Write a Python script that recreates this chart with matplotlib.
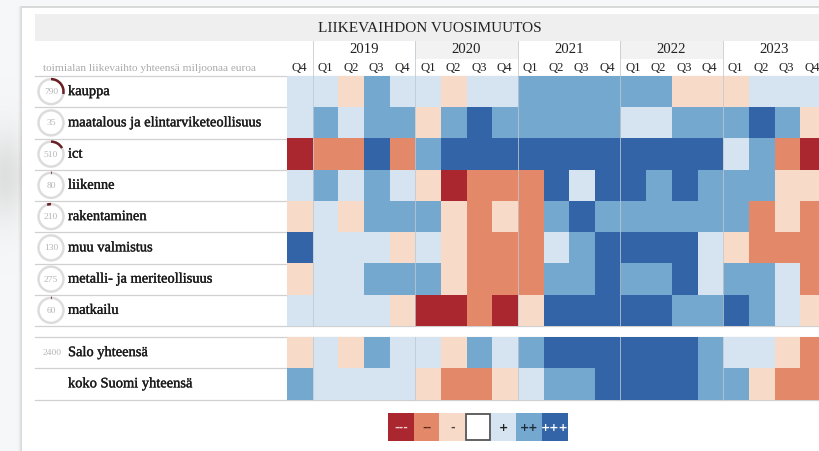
import numpy as np
import matplotlib
matplotlib.use("Agg")
import matplotlib.pyplot as plt
import matplotlib.patheffects as pe
from matplotlib.colors import ListedColormap, BoundaryNorm
from matplotlib.patches import Rectangle, Circle, Arc

# ---------------- data ----------------
title = "LIIKEVAIHDON VUOSIMUUTOS"
subtitle = "toimialan liikevaihto yhteensä miljoonaa euroa"
years = ["2019", "2020", "2021", "2022", "2023"]
quarters = ["Q4",
            "Q1", "Q2", "Q3", "Q4",
            "Q1", "Q2", "Q3", "Q4",
            "Q1", "Q2", "Q3", "Q4",
            "Q1", "Q2", "Q3", "Q4",
            "Q1", "Q2", "Q3", "Q4"]

sectors = ["kauppa", "maatalous ja elintarviketeollisuus", "ict", "liikenne",
           "rakentaminen", "muu valmistus", "metalli- ja meriteollisuus", "matkailu"]
sector_turnover = [790, 35, 510, 80, 210, 130, 275, 60]
sector_arc = [0.28, 0.0, 0.17, 0.01, -0.05, 0.0, 0.0, 0.01]

kauppa       = [1, 1, -1, 2, 1, 1, -1, 1, 1, 2, 2, 2, 2, 2, 2, -1, -1, -1, 1, 1, 1]
maatalous    = [1, 2, 1, 2, 2, -1, 2, 3, 2, 2, 2, 2, 2, 1, 1, 2, 2, 2, 3, 2, -1]
ict          = [-3, -2, -2, 3, -2, 2, 3, 3, 3, 3, 3, 3, 3, 3, 3, 3, 3, 1, 2, -2, -3]
liikenne     = [1, 2, 1, 2, 1, -1, -3, -2, -2, -2, 3, 1, 3, 3, 2, 3, 2, 2, 2, -1, -1]
rakentaminen = [-1, 1, -1, 2, 2, 2, -1, -2, -1, -2, 2, 3, 2, 2, 2, 2, 2, 2, -2, -1, -2]
muu          = [3, 1, 1, 1, -1, 1, -1, -2, -2, -2, 1, 2, 3, 3, 3, 3, 1, -1, -2, -2, -2]
metalli      = [-1, 1, 1, 2, 2, 2, -1, -2, -2, -2, 2, 2, 3, 2, 2, 3, 1, 2, 2, 1, -2]
matkailu     = [1, 1, 1, 1, -1, -3, -3, -2, -3, -1, 3, 3, 3, 3, 3, 2, 2, 3, 2, 1, -1]

totals = ["Salo yhteensä", "koko Suomi yhteensä"]
totals_turnover = ["2400", ""]
salo         = [-1, 1, -1, 2, 1, 1, -1, 2, 1, 2, 3, 3, 3, 3, 3, 3, 2, 1, 1, -1, -2]
suomi        = [2, 1, 1, 1, 1, -1, -2, -2, -1, 1, 2, 2, 3, 3, 3, 3, 2, 2, -1, -2, -2]

levels = [-3, -2, -1, 0, 1, 2, 3]
level_labels = ["---", "--", "-", "", "+", "++", "+++"]
level_colors = ["#ab2730", "#e3896a", "#f8dac9", "#ffffff", "#d5e4f0", "#74a8cf", "#3464a8"]
level_text_colors = ["#f4d0d0", "#5a2a1e", "#444444", "#333333", "#222222", "#1f2a3a", "white"]

sector_matrix = np.array([kauppa, maatalous, ict, liikenne, rakentaminen, muu, metalli, matkailu])
total_matrix = np.array([salo, suomi])

# ---------------- layout (pixels) ----------------
W, H = 820, 451
fig = plt.figure(figsize=(W / 100, H / 100), dpi=100)
fig.patch.set_facecolor("#f6f7f8")

cmap = ListedColormap(level_colors)
norm = BoundaryNorm(np.arange(-3.5, 4.0, 1.0), cmap.N)

x0 = 287.0            # left edge of heat map
cw = 25.625           # column width
rh = 31.25            # row height
y_sec = 76.0
y_tot = 337.0
ncol = len(quarters)
lab_left = 35.0
SERIF = "Liberation Serif"
thick = [pe.withStroke(linewidth=0.25, foreground="#1a1a1a")]


def fbox(x, y, w, h):
    return [x / W, 1 - (y + h) / H, w / W, h / H]


# background / overlay axes in pixel coords
bg = fig.add_axes([0, 0, 1, 1], zorder=0)
bg.set_xlim(0, W)
bg.set_ylim(H, 0)
bg.axis("off")

# soft blob on the left
yy, xx = np.mgrid[0:H, 0:60]
blob = np.exp(-(((xx - 5) / 22.0) ** 2 + ((yy - 175) / 45.0) ** 2))
rgba = np.zeros((H, 60, 4))
rgba[..., :3] = 0.80
rgba[..., 3] = 0.55 * blob
bg.imshow(rgba, extent=(0, 60, H, 0), aspect="auto", zorder=0)

# panel shadow and panel
for i, a in enumerate([0.04, 0.06, 0.08, 0.11]):
    bg.add_patch(Rectangle((22 - 4 + i, 6), W, H, facecolor="#888888", alpha=a,
                           edgecolor="none", zorder=1))
bg.add_patch(Rectangle((22, 8), W, H, facecolor="white", edgecolor="none", zorder=2))

# title band
bg.add_patch(Rectangle((lab_left, 14), W - lab_left, 27, facecolor="#efefef",
                       edgecolor="none", zorder=3))
bg.text(430, 28.5, title, ha="center", va="center", fontsize=11,
        family=SERIF, color="#222222", zorder=4)

# year header cells
for k, yr in enumerate(years):
    xs = x0 + cw * (1 + 4 * k)
    if k % 2 == 1:
        bg.add_patch(Rectangle((xs, 41), 4 * cw, 18, facecolor="#f2f2f2",
                               edgecolor="none", zorder=3))

bg.text(43, 68.5, subtitle, ha="left", va="center", fontsize=8.1,
        family=SERIF, color="#aaaaaa", zorder=4)

# horizontal row lines
for k in range(len(sectors) + 1):
    yv = y_sec + rh * k
    bg.plot([lab_left, W], [yv, yv], color="#d0d0d0", lw=0.9, zorder=3)
for k in range(len(totals) + 1):
    yv = y_tot + rh * k
    bg.plot([lab_left, W], [yv, yv], color="#d0d0d0", lw=0.9, zorder=3)

# row labels with circle gauges
for i, (name, val, arc) in enumerate(zip(sectors, sector_turnover, sector_arc)):
    cy = y_sec + rh * (i + 0.5)
    bg.add_patch(Circle((51, cy), 12.5, facecolor="white", edgecolor="#dcdcdc",
                        lw=1.8, zorder=4))
    if arc != 0:
        t1, t2 = (-90, -90 + 360 * arc) if arc > 0 else (-90 + 360 * arc, -90)
        bg.add_patch(Arc((51, cy), 25, 25, theta1=t1, theta2=t2,
                         color="#6b1f24", lw=1.8, zorder=5))
    bg.text(51, cy + 0.5, str(val), ha="center", va="center", fontsize=6.8,
            family=SERIF, color="#b5b5b5", zorder=5)
    bg.text(68, cy, name, ha="left", va="center", fontsize=10.4,
            family=SERIF, color="#1a1a1a", zorder=5, path_effects=thick)

for i, (name, val) in enumerate(zip(totals, totals_turnover)):
    cy = y_tot + rh * (i + 0.5)
    if val:
        bg.text(52, cy + 0.5, val, ha="center", va="center", fontsize=6.8,
                family=SERIF, color="#b5b5b5", zorder=5)
    bg.text(68, cy, name, ha="left", va="center", fontsize=10.4,
            family=SERIF, color="#1a1a1a", zorder=5, path_effects=thick)

# ---------------- heat maps ----------------
def heat(box, mat):
    ax = fig.add_axes(box, zorder=1)
    ax.imshow(mat, cmap=cmap, norm=norm, aspect="auto", interpolation="nearest",
              extent=(-0.5, mat.shape[1] - 0.5, mat.shape[0] - 0.5, -0.5))
    ax.set_xlim(-0.5, mat.shape[1] - 0.5)
    ax.set_ylim(mat.shape[0] - 0.5, -0.5)
    ax.axis("off")
    ax.patch.set_alpha(0)
    return ax


ax_s = heat(fbox(x0, y_sec, cw * ncol, rh * len(sectors)), sector_matrix)
ax_t = heat(fbox(x0, y_tot, cw * ncol, rh * len(totals)), total_matrix)

# header axis for quarters / years
ax_h = fig.add_axes(fbox(x0, 41, cw * ncol, 35), zorder=2)
ax_h.set_xlim(-0.5, ncol - 0.5)
ax_h.set_ylim(0, 1)
ax_h.axis("off")
ax_h.patch.set_alpha(0)
for j, q in enumerate(quarters):
    ax_h.text(j, 0.23, q, ha="center", va="center", fontsize=9.2,
              family=SERIF, color="#222222")
for k, yr in enumerate(years):
    ax_h.text(1 + 4 * k + 1.5, 0.76, yr, ha="center", va="center", fontsize=10.6,
              family=SERIF, color="#222222")

# year separators on top
ov = fig.add_axes([0, 0, 1, 1], zorder=3)
ov.set_xlim(0, W)
ov.set_ylim(H, 0)
ov.axis("off")
ov.patch.set_alpha(0)
for k in range(len(years)):
    xs = x0 + cw * (1 + 4 * k)
    ov.plot([xs, xs], [41, y_sec + rh * len(sectors)], color="#bfc8d0", lw=0.7, alpha=0.8)
    ov.plot([xs, xs], [y_tot, y_tot + rh * len(totals)], color="#bfc8d0", lw=0.7, alpha=0.8)

# ---------------- legend ----------------
ax_l = fig.add_axes(fbox(388, 413, 7 * 25.7, 28), zorder=2)
ax_l.imshow(np.array([levels]), cmap=cmap, norm=norm, aspect="auto",
            extent=(-0.5, len(levels) - 0.5, 0.5, -0.5))
ax_l.set_xlim(-0.5, len(levels) - 0.5)
ax_l.set_ylim(0.5, -0.5)
ax_l.axis("off")
zi = levels.index(0)
ax_l.add_patch(Rectangle((zi - 0.47, -0.46), 0.94, 0.92, facecolor="none",
                         edgecolor="#555555", lw=1.3))
for j, (lab, tc) in enumerate(zip(level_labels, level_text_colors)):
    ax_l.text(j, 0.02, lab, ha="center", va="center", fontsize=8,
              fontweight="bold", color=tc)

fig.savefig("out.png", dpi=100, facecolor=fig.get_facecolor())
